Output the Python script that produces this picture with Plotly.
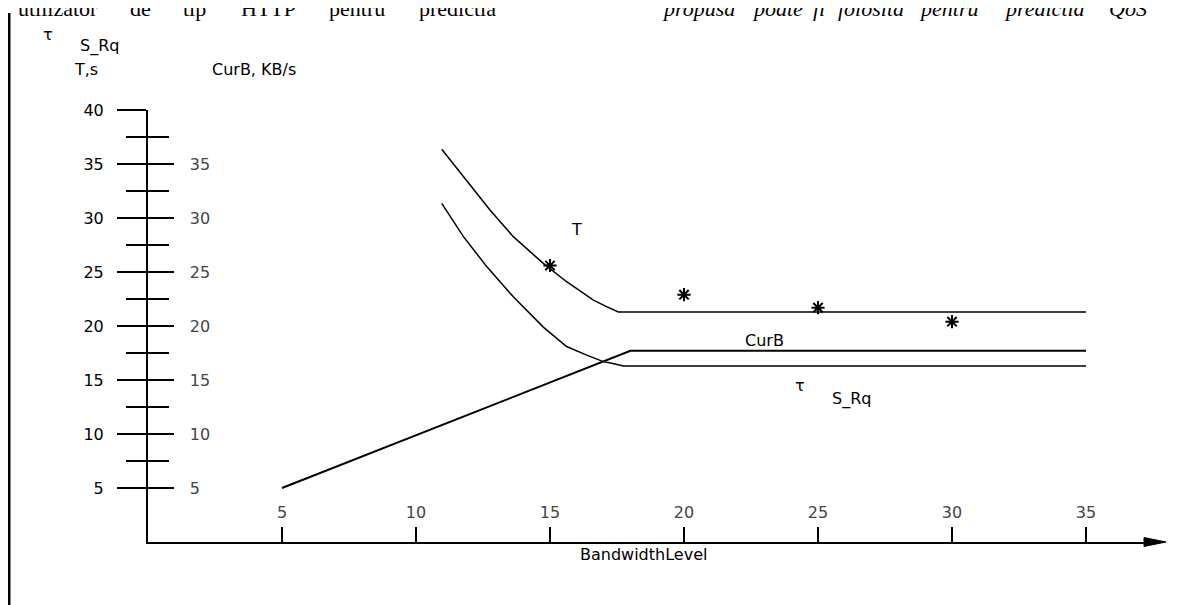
import plotly.graph_objects as go

# ---------------- data ----------------
t_x = [10.96, 11.77, 12.76, 13.63, 14.75, 15.62, 16.62, 17.11, 17.55, 35]
t_y = [36.36, 33.83, 30.74, 28.27, 25.8, 24.1, 22.4, 21.8, 21.3, 21.3]

tau_x = [10.96, 11.77, 12.64, 13.63, 14.75, 15.62, 16.37, 16.99, 17.3, 17.74, 35]
tau_y = [31.35, 28.27, 25.5, 22.7, 19.9, 18.1, 17.3, 16.7, 16.55, 16.3, 16.3]

curb_x = [5, 18, 35]
curb_y = [5, 17.7, 17.7]

star_x = [15, 20, 25, 30]
star_y = [25.6, 22.9, 21.7, 20.4]

x_ticks = [5, 10, 15, 20, 25, 30, 35]
y_ticks_left = [5, 10, 15, 20, 25, 30, 35, 40]
y_ticks_right = [5, 10, 15, 20, 25, 30, 35]
y_minor = [2.5, 7.5, 12.5, 17.5, 22.5, 27.5, 32.5, 37.5]

# ---------------- geometry ----------------
PAGE_W, PAGE_H = 1190, 605
OFF = 8                          # default page margin around the figure
W, H = PAGE_W - OFF, PAGE_H - OFF

X0PX, Y0PX = 148, 542            # origin (page pixels)
XPX, YPX = 26.8, 10.8            # pixels per unit
X_END_PX = 1146                  # where the x axis line ends (arrow starts)
Y_MAX = 40


def px(x):
    return (x - OFF) / W


def py(y):
    return 1 - (y - OFF) / H


FONT = "DejaVu Sans"
FS = 16
BLACK = "black"

fig = go.Figure()

fig.add_trace(go.Scatter(x=t_x, y=t_y, mode="lines", line=dict(color=BLACK, width=1.5),
                         name="T", showlegend=False, hoverinfo="skip"))
fig.add_trace(go.Scatter(x=tau_x, y=tau_y, mode="lines", line=dict(color=BLACK, width=1.5),
                         name="τS_Rq", showlegend=False, hoverinfo="skip"))
fig.add_trace(go.Scatter(x=curb_x, y=curb_y, mode="lines", line=dict(color=BLACK, width=2),
                         name="CurB", showlegend=False, yaxis="y2", hoverinfo="skip"))
fig.add_trace(go.Scatter(x=star_x, y=star_y, mode="markers",
                         marker=dict(symbol="asterisk-open", size=11, color=BLACK,
                                     line=dict(color=BLACK, width=2)),
                         showlegend=False, hoverinfo="skip"))

x_range_end = (X_END_PX - X0PX) / XPX
y_dom = [py(Y0PX), py(Y0PX - Y_MAX * YPX)]

fig.update_layout(
    width=W, height=H, autosize=False,
    margin=dict(l=0, r=0, t=0, b=0, pad=0, autoexpand=False),
    paper_bgcolor="white", plot_bgcolor="white",
    font=dict(family=FONT, size=FS, color=BLACK),
    xaxis=dict(
        domain=[px(X0PX), px(X_END_PX)], range=[0, x_range_end], anchor="y", automargin=False,
        showgrid=False, zeroline=False, showline=True, linecolor=BLACK, linewidth=2,
        tickmode="array", tickvals=x_ticks, ticktext=[str(v) for v in x_ticks],
        ticks="inside", ticklen=15, tickwidth=2, tickcolor=BLACK,
        ticklabelposition="inside", ticklabelstandoff=6,
    ),
    yaxis=dict(
        domain=y_dom, range=[0, Y_MAX], anchor="x", automargin=False,
        showgrid=False, zeroline=False, showline=True, linecolor=BLACK, linewidth=2,
        tickmode="array", tickvals=y_ticks_left, ticktext=[str(v) for v in y_ticks_left],
        ticks="outside", ticklen=29, tickwidth=2, tickcolor=BLACK,
        ticklabelstandoff=10,
        minor=dict(tickmode="array", tickvals=y_minor, ticks="outside", ticklen=20,
                   tickwidth=2, tickcolor=BLACK, showgrid=False),
    ),
    yaxis2=dict(
        overlaying="y", side="left", anchor="x", range=[0, Y_MAX], automargin=False,
        showgrid=False, zeroline=False, showline=False,
        tickmode="array", tickvals=y_ticks_right, ticktext=[str(v) for v in y_ticks_right],
        ticks="inside", ticklen=26, tickwidth=2, tickcolor=BLACK,
        ticklabelposition="inside", ticklabelstandoff=16,
        minor=dict(tickmode="array", tickvals=y_minor, ticks="inside", ticklen=21,
                   tickwidth=2, tickcolor=BLACK, showgrid=False),
    ),
)

# x axis arrow head
fig.add_shape(type="path", xref="paper", yref="paper",
              path=(f"M {px(X_END_PX - 2)} {py(Y0PX - 4.5)} L {px(1166)} {py(Y0PX)} "
                    f"L {px(X_END_PX - 2)} {py(Y0PX + 4.5)} Z"),
              fillcolor=BLACK, line=dict(color=BLACK, width=1))

# page border line on the left
fig.add_shape(type="line", xref="paper", yref="paper", x0=px(9), x1=px(9), y0=0, y1=py(13),
              line=dict(color=BLACK, width=3))

C = dict(showarrow=False, xanchor="center", yanchor="middle")
ann = []
# x axis title
ann.append(dict(x=px(643), y=py(554), xref="paper", yref="paper", text="BandwidthLevel", **C))
# curve labels (data coordinates)
ann.append(dict(x=16.0, y=28.9, xref="x", yref="y", text="T", **C))
ann.append(dict(x=23.0, y=18.7, xref="x", yref="y", text="CurB", **C))
ann.append(dict(x=24.33, y=14.5, xref="x", yref="y", text="τ", **C))
ann.append(dict(x=26.25, y=13.2, xref="x", yref="y", text="S_Rq", **C))

# axis titles (top-left)
ann.append(dict(x=px(48), y=py(34), xref="paper", yref="paper", text="τ", **C))
ann.append(dict(x=px(99), y=py(46), xref="paper", yref="paper", text="S_Rq", **C))
ann.append(dict(x=px(86), y=py(69), xref="paper", yref="paper", text="T,s", **C))
ann.append(dict(x=px(254), y=py(69), xref="paper", yref="paper", text="CurB, KB/s", **C))

# cut-off document text at the very top
serif = dict(family="Liberation Serif", size=22, color=BLACK)
serif_it = dict(family="Liberation Serif", size=22, color=BLACK, style="italic")
TOP_Y = py(23)
top_words = [("utilizator", 100, "right"), ("de", 140, "center"), ("tip", 194, "center"),
             ("HTTP", 268, "center"), ("pentru", 357, "center"), ("predictia", 457, "center")]
for w, xx, anc in top_words:
    ann.append(dict(x=px(xx), y=TOP_Y, xref="paper", yref="paper", text=w, showarrow=False,
                    xanchor=anc, yanchor="bottom", font=serif))
top_words_it = [("propusa", 698, "center"), ("poate", 777, "center"), ("fi", 819, "center"),
                ("folosita", 871, "center"), ("pentru", 948, "center"),
                ("predictia", 1044, "center"), ("QoS", 1107, "left")]
for w, xx, anc in top_words_it:
    ann.append(dict(x=px(xx), y=TOP_Y, xref="paper", yref="paper", text=w, showarrow=False,
                    xanchor=anc, yanchor="bottom", font=serif_it))

fig.update_layout(annotations=ann)

fig.write_html("out.html")
